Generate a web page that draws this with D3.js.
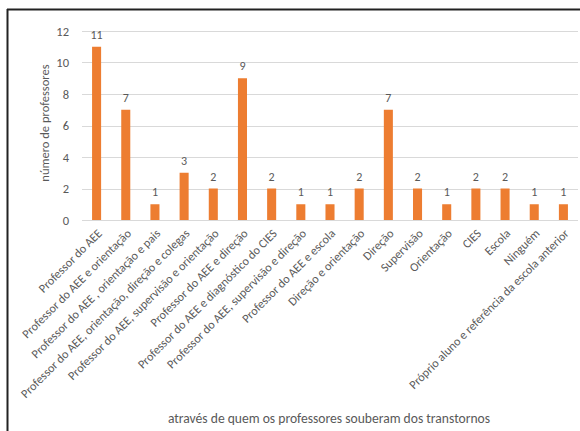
<!DOCTYPE html>
<html>
<head>
<meta charset="utf-8">
<script src="https://cdn.jsdelivr.net/npm/d3@7"></script>
<style>
  body { margin: 0; background: #fff; }
  text { font-family: Calibri, Carlito, "Open Sans", "Liberation Sans", sans-serif; fill: #595959; }
</style>
</head>
<body>
<div id="chart"></div>
<script>
var categories = ["Professor do AEE", "Professor do AEE e orientação", "Professor do AEE , orientação e pais",
  "Professor do AEE, orientação, direção e colegas", "Professor do AEE, supervisão e orientação",
  "Professor do AEE e direção", "Professor do AEE e diagnóstico do CIES", "Professor do AEE, supervisão e direção",
  "Professor do AEE e escola", "Direção e orientação", "Direção", "Supervisão", "Orientação", "CIES",
  "Escola", "Ninguém", "Próprio aluno e referência da escola anterior"];
var values = [11, 7, 1, 3, 2, 9, 2, 1, 1, 2, 7, 2, 1, 2, 2, 1, 1];
var yTicks = [0, 2, 4, 6, 8, 10, 12];

var W = 580, H = 431;
var pLeft = 82, pRight = 578, pTop = 31, pBottom = 220;
var barColor = '#ED7D31';

var svg = d3.select("#chart").append("svg").attr("width", W).attr("height", H);

// frame
svg.append("line").attr("x1", 7).attr("x2", W).attr("y1", 9.5).attr("y2", 9.5)
  .attr("stroke", "#222").attr("stroke-width", 2);
svg.append("line").attr("x1", 7.5).attr("x2", 7.5).attr("y1", 9).attr("y2", H)
  .attr("stroke", "#222").attr("stroke-width", 2);

var x = d3.scaleBand().domain(categories).range([pLeft, pRight]).paddingInner(0.69).paddingOuter(0.345);
var y = d3.scaleLinear().domain([0, 12]).range([pBottom, pTop]);

// gridlines
svg.append("g").selectAll("line").data(yTicks).enter().append("line")
  .attr("x1", pLeft).attr("x2", pRight)
  .attr("y1", function(d){ return Math.round(y(d)) + 0.5; })
  .attr("y2", function(d){ return Math.round(y(d)) + 0.5; })
  .attr("stroke", "#d9d9d9").attr("stroke-width", 1);

// y axis labels
var yAxis = svg.append("g").attr("transform", "translate(" + pLeft + ",0)")
  .call(d3.axisLeft(y).tickValues(yTicks).tickSize(0).tickPadding(13));
yAxis.select(".domain").remove();
yAxis.selectAll("text").attr("font-size", 12.5).style("font-family", null).attr("fill", null);

// bars
svg.append("g").selectAll("rect").data(values).enter().append("rect")
  .attr("x", function(d, i){ return x(categories[i]); })
  .attr("width", x.bandwidth())
  .attr("y", function(d){ return y(d); })
  .attr("height", function(d){ return y(0) - y(d); })
  .attr("fill", barColor);

// value labels
svg.append("g").selectAll("text").data(values).enter().append("text")
  .attr("x", function(d, i){ return x(categories[i]) + x.bandwidth() / 2; })
  .attr("y", function(d){ return y(d) - 8; })
  .attr("text-anchor", "middle").attr("font-size", 12)
  .text(function(d){ return d; });

// x axis line
svg.append("line").attr("x1", pLeft).attr("x2", pRight)
  .attr("y1", Math.round(y(0)) + 0.5).attr("y2", Math.round(y(0)) + 0.5)
  .attr("stroke", "#d9d9d9");

// x category labels
svg.append("g").selectAll("text").data(categories).enter().append("text")
  .attr("transform", function(d){
    return "translate(" + (x(d) + x.bandwidth() / 2 + 3) + "," + (pBottom + 11) + ") rotate(-45)";
  })
  .attr("text-anchor", "end").attr("dominant-baseline", "central")
  .attr("font-size", 12.2)
  .text(function(d){ return d; });

// axis titles
svg.append("text").attr("transform", "translate(49,123) rotate(-90)")
  .attr("text-anchor", "middle").attr("font-size", 12.5)
  .text("número de professores");
svg.append("text").attr("x", 329).attr("y", 423)
  .attr("text-anchor", "middle").attr("font-size", 13.6)
  .text("através de quem os professores souberam dos transtornos");
</script>
</body>
</html>
